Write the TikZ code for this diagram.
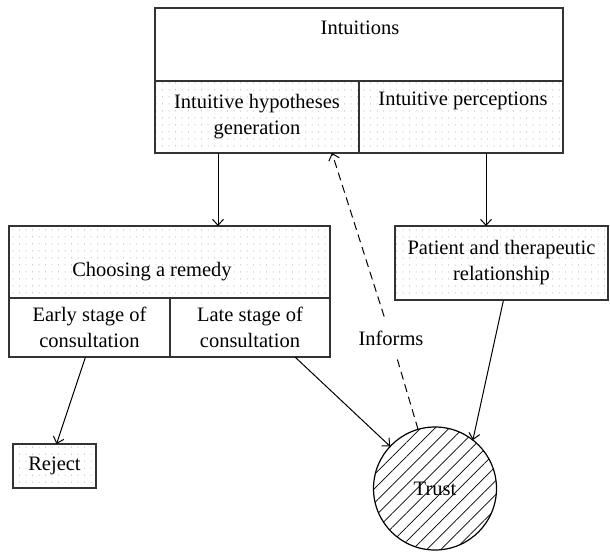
\documentclass[tikz,border=0pt]{standalone}
\usepackage{fontspec}
\setmainfont{Liberation Serif}
\usetikzlibrary{arrows.meta,positioning,patterns,patterns.meta}

\pgfdeclarepatternformonly{sparsedots}{\pgfqpoint{-1pt}{-1pt}}{\pgfqpoint{1pt}{1pt}}{\pgfqpoint{6.5pt}{7pt}}{%
  \pgfpathcircle{\pgfqpoint{0pt}{0pt}}{0.5pt}\pgfusepath{fill}}

\tikzstyle{boxcell} = [rectangle, draw=black!80, line width=1.2pt, anchor=north west, outer sep=0pt, inner sep=0pt, align=center, text=black, font=\fontsize{20.5}{26}\selectfont]
\tikzstyle{dotcell} = [boxcell, pattern=sparsedots, pattern color=black!40]
\tikzstyle{trustcirc} = [circle, draw=black, line width=1.2pt, pattern={Lines[angle=45,distance=10pt,line width=0.7pt]}, minimum size=123pt, inner sep=0pt, outer sep=0pt, font=\fontsize{20.5}{26}\selectfont]
\tikzstyle{textonly} = [draw=none, fill=none, align=center, font=\fontsize{20.5}{26}\selectfont]
\tikzstyle{tedge}  = [draw, line width=1pt, -{Straight Barb[length=6pt,width=11pt]}]

\begin{document}
\begin{tikzpicture}[x=1pt, y=-1pt]
\useasboundingbox (0,0) rectangle (610,552);

% intuitions block
\node[boxcell, minimum width=408pt, minimum height=73pt] (intu) at (155,8) {};
\node[dotcell, minimum width=204pt, minimum height=72pt] (hyp) at (intu.south west) {Intuitive hypotheses\\generation};
\node[dotcell, minimum width=204pt, minimum height=72pt] (perc) at (hyp.north east) {};
\node[textonly] (intutext) at (360,28) {Intuitions};
\node[textonly] (perctext) at (463,101) {Intuitive perceptions};

% choosing a remedy block
\node[dotcell, minimum width=321pt, minimum height=72pt] (remedy) at (9,226) {};
\node[textonly] (remedytext) at (152,272) {Choosing a remedy};
\node[boxcell, minimum width=161pt, minimum height=59pt] (early) at (remedy.south west) {Early stage of\\consultation};
\node[boxcell, minimum width=160pt, minimum height=59pt] (late) at (early.north east) {Late stage of\\consultation};

% other boxes
\node[dotcell, minimum width=213pt, minimum height=74pt] (patient) at (395,226) {Patient and therapeutic\\relationship};
\node[dotcell, minimum width=83pt, minimum height=44pt] (reject) at (13,444) {Reject};
\node[trustcirc] (trust) at (435,488.5) {Trust};

% text only
\node[textonly, inner ysep=14pt] (informs) at (391,338) {Informs};

% edges
\path[tedge] ([xshift=-39pt]hyp.south) -- ([xshift=-39pt]hyp.south |- remedy.north);
\path[tedge] ([xshift=25pt]perc.south) -- ([xshift=25pt]perc.south |- patient.north);
\path[tedge] ([xshift=-4pt]early.south) -- ([xshift=2pt]reject.north);
\path[tedge] ([xshift=45pt]late.south) -- (trust);
\path[tedge] ([xshift=2pt]patient.south) -- (trust.52);

% dashed edge
\path[draw, line width=1pt, dash pattern=on 8pt off 5pt] (trust.106) -- (informs);
\path[tedge, dash pattern=on 8pt off 5pt] (informs) -- ([xshift=-27pt]hyp.south east);

\end{tikzpicture}
\end{document}
